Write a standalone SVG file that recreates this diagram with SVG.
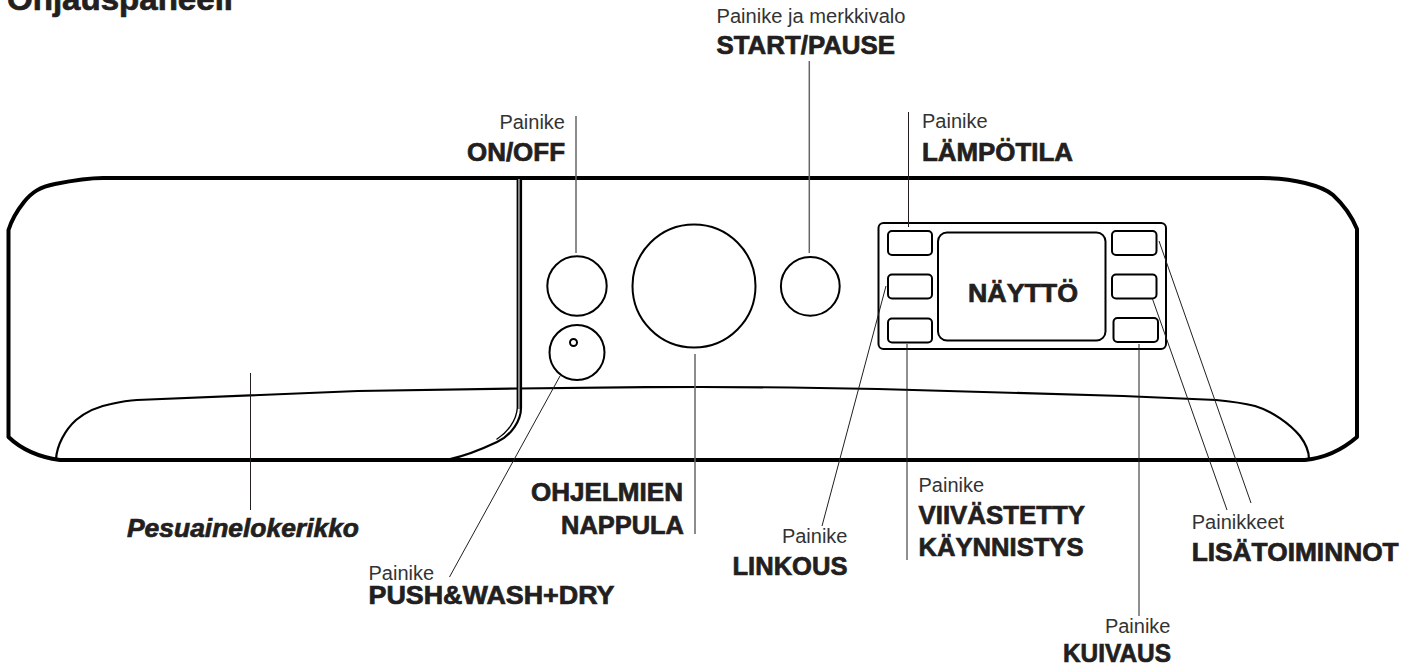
<svg xmlns="http://www.w3.org/2000/svg" width="1418" height="666" viewBox="0 0 1418 666">
<style>
text{font-family:"Liberation Sans",Arial,sans-serif;fill:#231f20}
.l{font-size:20px;font-weight:400;fill:#333}
.b{font-size:25.500px;font-weight:700;stroke:#231f20;stroke-width:.7px}
.e{text-anchor:end}
.o{fill:none;stroke:#000;stroke-linejoin:round;stroke-linecap:round}
.t4{stroke-width:4}.t2{stroke-width:1.4}.t3{stroke-width:2.2}
.ld{fill:none;stroke:#231f20;stroke-width:1}
.lg{fill:none;stroke:#666;stroke-width:1.5}
.btn{fill:none;stroke:#000;stroke-width:2}
</style>
<rect width="1418" height="666" fill="#fff"/>
<g id="body">
<path class="o t4" d="M103 178H1262C1280 178 1293 180 1305 183C1317 186 1326 189 1333 195C1345 206 1352 217 1357 229V437C1342 450 1325 458 1305 460H60C38 457 22 450 8.500 437V230C11 222 16 212 24 202C32 192 40 187 55 184C70 181 85 178 103 178Z"/>
<path class="o t3" d="M56 459C57 445 65 430 76 420C87 411 100 406 111 404C120 402 127 400.600 137 400L358 391L518 388.500C600 387.500 640 387 700 387C780 387 830 388 878 389L1123 396L1216 400C1232 401.500 1245 403.500 1255 406C1272 411 1290 424 1300 436C1306 444 1309 452 1309 459"/>
<rect x="517.500" y="179" width="3" height="230" fill="#888"/>
<path class="o t3" d="M450 459C465 456 480 450 497 442C512 435 521 420 521 408V179"/>
<path class="o t2" d="M497 439C508 432 516.500 420 517.300 408V179"/>
</g>
<g id="on-off-button"><circle class="btn" cx="577" cy="286" r="29.700"/></g>
<g id="push-wash-button"><circle class="btn" cx="577" cy="352.500" r="27.500"/><circle class="btn" cx="573.500" cy="342.500" r="3.500"/></g>
<g id="program-dial"><circle class="btn" cx="694" cy="286" r="61.500"/></g>
<g id="start-button"><circle class="btn" cx="810.300" cy="286.300" r="29.400"/></g>
<g id="display-panel">
<rect class="btn" x="878.500" y="223" width="287.500" height="126" rx="5"/>
<rect class="btn" x="938" y="232.500" width="167.500" height="108" rx="9"/>
<rect class="btn" x="888" y="231" width="44" height="24" rx="4"/>
<rect class="btn" x="888" y="274.500" width="44" height="24" rx="4"/>
<rect class="btn" x="888" y="318.500" width="44" height="24" rx="4"/>
<rect class="btn" x="1112" y="231" width="44.500" height="24" rx="4"/>
<rect class="btn" x="1112" y="274.500" width="44.500" height="24" rx="4"/>
<rect class="btn" x="1113.500" y="318" width="44.500" height="24" rx="4"/>
<text class="b" x="968" y="302" textLength="110" lengthAdjust="spacingAndGlyphs">NÄYTTÖ</text>
</g>
<g id="connectors">
<line class="lg" x1="576" y1="116" x2="576" y2="253"/>
<line class="lg" x1="809.300" y1="61" x2="809.300" y2="253"/>
<line class="ld" x1="908.500" y1="112" x2="908.500" y2="227"/>
<line class="ld" x1="250.500" y1="373" x2="250.500" y2="510"/>
<line class="lg" x1="695" y1="354" x2="695" y2="534"/>
<line class="ld" x1="560" y1="376" x2="449.500" y2="577"/>
<line class="ld" x1="886" y1="286" x2="822" y2="526"/>
<line class="ld" x1="907" y1="344" x2="907" y2="560"/>
<line class="ld" x1="1139" y1="344" x2="1139" y2="616"/>
<line class="ld" x1="1152.500" y1="299" x2="1227" y2="510"/>
<line class="ld" x1="1159" y1="241" x2="1251" y2="503"/>
</g>
<g id="labels">
<text class="b" x="7" y="9.500" textLength="226" lengthAdjust="spacingAndGlyphs" style="font-size:32px">Ohjauspaneeli</text>
<text class="l e" x="565" y="129">Painike</text>
<text class="b" x="467" y="161" textLength="98" lengthAdjust="spacingAndGlyphs">ON/OFF</text>
<text class="l" x="716.500" y="22.700" textLength="189" lengthAdjust="spacingAndGlyphs">Painike ja merkkivalo</text>
<text class="b" x="716.500" y="54.300" textLength="178.500" lengthAdjust="spacingAndGlyphs">START/PAUSE</text>
<text class="l" x="922" y="128">Painike</text>
<text class="b" x="922" y="160.500" textLength="151" lengthAdjust="spacingAndGlyphs">LÄMPÖTILA</text>
<text class="b" x="127" y="537" textLength="232" lengthAdjust="spacingAndGlyphs" style="font-style:italic">Pesuainelokerikko</text>
<text class="b" x="531" y="501" textLength="152" lengthAdjust="spacingAndGlyphs">OHJELMIEN</text>
<text class="b" x="561" y="534" textLength="123" lengthAdjust="spacingAndGlyphs">NAPPULA</text>
<text class="l" x="368.500" y="580">Painike</text>
<text class="b" x="368.500" y="604" textLength="246" lengthAdjust="spacingAndGlyphs">PUSH&amp;WASH+DRY</text>
<text class="l e" x="847.500" y="543">Painike</text>
<text class="b" x="732.500" y="575" textLength="115" lengthAdjust="spacingAndGlyphs">LINKOUS</text>
<text class="l" x="918.500" y="492">Painike</text>
<text class="b" x="918.500" y="524" textLength="166.500" lengthAdjust="spacingAndGlyphs">VIIVÄSTETTY</text>
<text class="b" x="918.500" y="556" textLength="165" lengthAdjust="spacingAndGlyphs">KÄYNNISTYS</text>
<text class="l e" x="1170.500" y="633">Painike</text>
<text class="b" x="1063" y="662" textLength="108" lengthAdjust="spacingAndGlyphs">KUIVAUS</text>
<text class="l" x="1191.700" y="529" textLength="92.500" lengthAdjust="spacingAndGlyphs">Painikkeet</text>
<text class="b" x="1191.700" y="561" textLength="207" lengthAdjust="spacingAndGlyphs">LISÄTOIMINNOT</text>
</g>
</svg>
